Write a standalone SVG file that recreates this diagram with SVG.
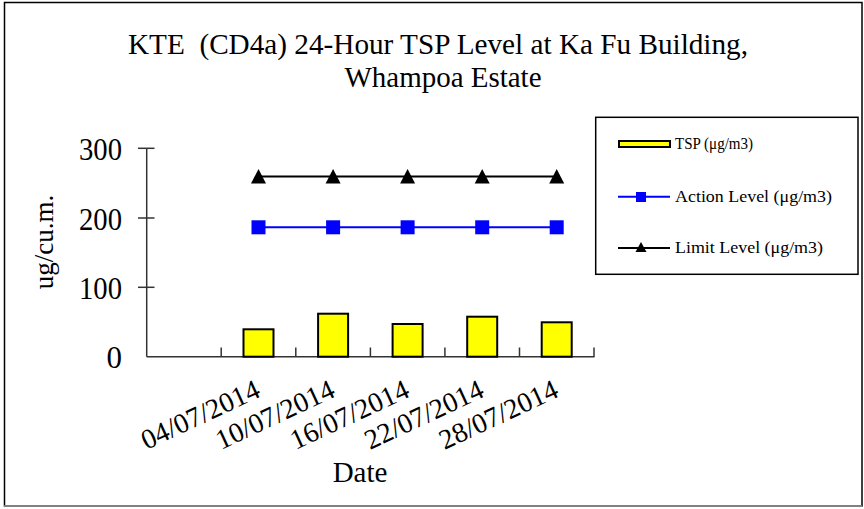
<svg xmlns="http://www.w3.org/2000/svg" width="864" height="509" viewBox="0 0 864 509">
  <defs>
    <style>
      text { font-family: "Liberation Serif", "Times New Roman", serif; fill: #000; }
      .axis { stroke: #333; stroke-width: 1.5; fill: none; }
      .bar { fill: #ffff00; stroke: #000; stroke-width: 2; }
      .lim { stroke: #000; stroke-width: 2; fill: none; }
      .act { stroke: #0000ff; stroke-width: 2; fill: none; }
      .sq { fill: #0000ff; }
      .tri { fill: #000; }
      .ytick { font-size: 31px; text-anchor: end; }
      .xlab { font-size: 28px; text-anchor: end; }
      .leg { font-size: 17px; }
    </style>
    <rect id="sqm" x="-7" y="-7" width="14" height="14" class="sq"/>
    <polygon id="trim" points="0,-7.5 7.5,7 -7.5,7" class="tri"/>
  </defs>

  <rect x="0" y="0" width="864" height="509" fill="#fff"/>
  <rect x="4.5" y="2.5" width="857.5" height="503.5" fill="none" stroke="#000" stroke-width="1.5"/>
  <line x1="4" y1="506" x2="862" y2="506" stroke="#999" stroke-width="1.5"/>

  <g id="title">
    <text x="438" y="54" font-size="29" text-anchor="middle" textLength="620" lengthAdjust="spacingAndGlyphs" xml:space="preserve" style="white-space: pre">KTE  (CD4a) 24-Hour TSP Level at Ka Fu Building,</text>
    <text x="443" y="87" font-size="29" text-anchor="middle" textLength="197" lengthAdjust="spacingAndGlyphs">Whampoa Estate</text>
  </g>

  <g id="y-axis">
    <line class="axis" x1="146.7" y1="148.3" x2="146.7" y2="356.7"/>
    <line class="axis" x1="138" y1="148.3" x2="154.5" y2="148.3"/>
    <line class="axis" x1="138" y1="218" x2="154.5" y2="218"/>
    <line class="axis" x1="138" y1="287.3" x2="154.5" y2="287.3"/>
    <text class="ytick" x="122" y="160" textLength="43" lengthAdjust="spacingAndGlyphs">300</text>
    <text class="ytick" x="122" y="229.5" textLength="43" lengthAdjust="spacingAndGlyphs">200</text>
    <text class="ytick" x="122" y="298.5" textLength="43" lengthAdjust="spacingAndGlyphs">100</text>
    <text class="ytick" x="122" y="367.5">0</text>
    <text x="0" y="0" font-size="27" text-anchor="middle" transform="translate(53,242) rotate(-90)">ug/cu.m.</text>
  </g>

  <g id="x-axis">
    <line class="axis" x1="146.7" y1="356.7" x2="594.5" y2="356.7"/>
    <line class="axis" x1="221.2" y1="347.5" x2="221.2" y2="356.7"/>
    <line class="axis" x1="295.8" y1="347.5" x2="295.8" y2="356.7"/>
    <line class="axis" x1="370.4" y1="347.5" x2="370.4" y2="356.7"/>
    <line class="axis" x1="444.9" y1="347.5" x2="444.9" y2="356.7"/>
    <line class="axis" x1="519.5" y1="347.5" x2="519.5" y2="356.7"/>
    <line class="axis" x1="594" y1="347.5" x2="594" y2="356.7"/>
    <text class="xlab" transform="translate(262,396) rotate(-25)">04/07/2014</text>
    <text class="xlab" transform="translate(336.6,396) rotate(-25)">10/07/2014</text>
    <text class="xlab" transform="translate(411.1,396) rotate(-25)">16/07/2014</text>
    <text class="xlab" transform="translate(485.7,396) rotate(-25)">22/07/2014</text>
    <text class="xlab" transform="translate(560.2,396) rotate(-25)">28/07/2014</text>
    <text x="360" y="482" font-size="29" text-anchor="middle">Date</text>
  </g>

  <g id="tsp-bars">
    <rect class="bar" x="243.5" y="329.3" width="30" height="27.4"/>
    <rect class="bar" x="318.1" y="313.7" width="30" height="43"/>
    <rect class="bar" x="392.6" y="324" width="30" height="32.7"/>
    <rect class="bar" x="467.2" y="316.7" width="30" height="40"/>
    <rect class="bar" x="541.7" y="322.3" width="30" height="34.4"/>
  </g>

  <g id="action-level">
    <line class="act" x1="258.5" y1="227.3" x2="556.7" y2="227.3"/>
    <use href="#sqm" x="258.5" y="227.3"/>
    <use href="#sqm" x="333.1" y="227.3"/>
    <use href="#sqm" x="407.6" y="227.3"/>
    <use href="#sqm" x="482.2" y="227.3"/>
    <use href="#sqm" x="556.7" y="227.3"/>
  </g>

  <g id="limit-level">
    <line class="lim" x1="258.5" y1="176.5" x2="556.7" y2="176.5"/>
    <use href="#trim" x="258.5" y="176.5"/>
    <use href="#trim" x="333.1" y="176.5"/>
    <use href="#trim" x="407.6" y="176.5"/>
    <use href="#trim" x="482.2" y="176.5"/>
    <use href="#trim" x="556.7" y="176.5"/>
  </g>

  <g id="legend">
    <rect x="595.7" y="117.3" width="262.3" height="157" fill="#fff" stroke="#000" stroke-width="1.5"/>
    <rect x="619" y="141" width="51" height="6" fill="#ffff00" stroke="#000" stroke-width="2"/>
    <text class="leg" x="675" y="149" textLength="78" lengthAdjust="spacingAndGlyphs">TSP (μg/m3)</text>
    <line class="act" x1="618" y1="196.7" x2="670" y2="196.7"/>
    <rect x="636" y="192" width="10" height="10" class="sq"/>
    <text class="leg" x="675" y="202" textLength="157" lengthAdjust="spacingAndGlyphs">Action Level (μg/m3)</text>
    <line class="lim" x1="618" y1="248" x2="670" y2="248"/>
    <polygon points="641,242 646.5,252 635.5,252" class="tri"/>
    <text class="leg" x="675" y="253" textLength="148" lengthAdjust="spacingAndGlyphs">Limit Level (μg/m3)</text>
  </g>
</svg>
